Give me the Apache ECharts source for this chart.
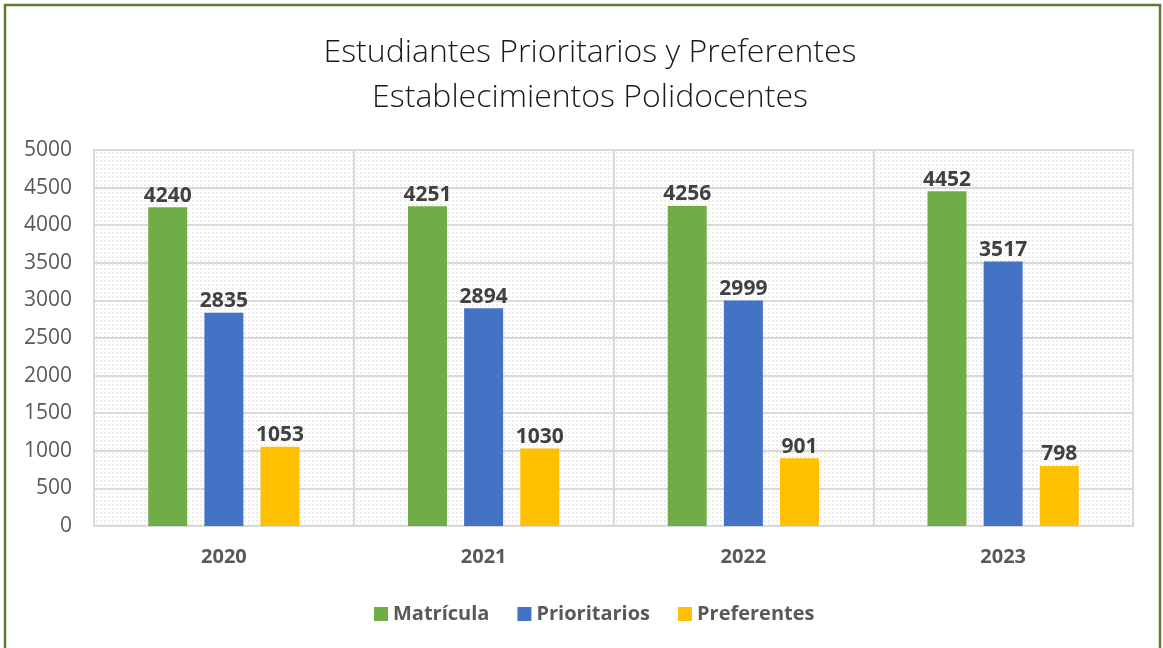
<!DOCTYPE html>
<html>
<head>
<meta charset="utf-8">
<title>Estudiantes Prioritarios y Preferentes</title>
<script src="https://cdn.jsdelivr.net/npm/echarts@6/dist/echarts.min.js"></script>
<style>
  html, body { margin: 0; padding: 0; background: #ffffff; }
  #chart { width: 1163px; height: 648px; }
</style>
</head>
<body>
<div id="chart"></div>
<script>
const years = ['2020', '2021', '2022', '2023']
const matricula = [4240, 4251, 4256, 4452]
const prioritarios = [2835, 2894, 2999, 3517]
const preferentes = [1053, 1030, 901, 798]
const yTicks = { min: 0, max: 5000, interval: 500 }

// hatched background for the plot area
const makePattern = () => {
  const c = document.createElement('canvas')
  c.width = 8
  c.height = 8
  const ctx = c.getContext('2d')
  ctx.fillStyle = '#ffffff'
  ctx.fillRect(0, 0, 8, 8)
  ctx.fillStyle = '#dddddd'
  const pts = [[0, 0], [1, 1], [4, 4], [5, 5], [4, 0], [5, 1], [0, 4], [1, 5]]
  pts.forEach(p => ctx.fillRect(p[0], p[1], 1, 1))
  return c
}

const chartDom = document.getElementById('chart')
const myChart = echarts.init(chartDom)
const font = 'Open Sans'

const barLabel = {
  show: true,
  position: 'top',
  distance: 1,
  fontFamily: font,
  fontSize: 21,
  fontWeight: 'bold',
  color: '#404040'
}

const option = {
  animation: false,
  title: {
    text: 'Estudiantes Prioritarios y Preferentes\nEstablecimientos Polidocentes',
    left: 585,
    textAlign: 'center',
    top: 25,
    textStyle: {
      fontFamily: font,
      fontWeight: 300,
      fontSize: 32,
      lineHeight: 45,
      color: '#1a1a1a'
    }
  },
  graphic: [
    {
      type: 'rect',
      shape: { x: 5, y: 5, width: 1155, height: 700 },
      style: { fill: 'none', stroke: '#5f7a32', lineWidth: 2.5 },
      silent: true
    }
  ],
  legend: {
    top: 599,
    left: 369,
    icon: 'rect',
    itemWidth: 14,
    itemHeight: 14,
    itemGap: 28,
    textStyle: { fontFamily: font, fontSize: 20, fontWeight: 'bold', color: '#595959' }
  },
  grid: {
    left: 94,
    right: 30,
    top: 150,
    bottom: 122,
    show: true,
    borderColor: '#d9d9d9',
    borderWidth: 2,
    backgroundColor: { image: makePattern(), repeat: 'repeat' }
  },
  xAxis: {
    type: 'category',
    data: years,
    axisTick: { show: false },
    axisLine: { lineStyle: { color: '#d9d9d9', width: 2 } },
    splitLine: { show: true, lineStyle: { color: '#d9d9d9', width: 2 } },
    axisLabel: { margin: 21, fontFamily: font, fontSize: 20, fontWeight: 'bold', color: '#595959' }
  },
  yAxis: {
    type: 'value',
    min: yTicks.min,
    max: yTicks.max,
    interval: yTicks.interval,
    axisLine: { show: false },
    axisTick: { show: false },
    splitLine: { lineStyle: { color: '#d9d9d9', width: 2 } },
    axisLabel: {
      margin: 22,
      fontFamily: font,
      fontSize: 21,
      color: '#595959',
      formatter: v => String(v)
    }
  },
  series: [
    { name: 'Matrícula', type: 'bar', data: matricula, barWidth: 39, barGap: '44%', itemStyle: { color: '#70ad47' }, label: barLabel },
    { name: 'Prioritarios', type: 'bar', data: prioritarios, barWidth: 39, barGap: '44%', itemStyle: { color: '#4472c4' }, label: barLabel },
    { name: 'Preferentes', type: 'bar', data: preferentes, barWidth: 39, barGap: '44%', itemStyle: { color: '#ffc000' }, label: barLabel }
  ]
}

option && myChart.setOption(option)
</script>
</body>
</html>
